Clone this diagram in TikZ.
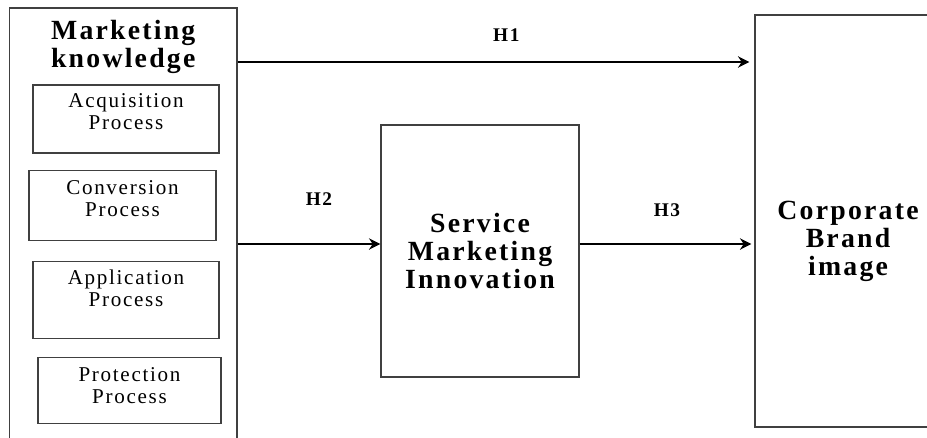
\documentclass[tikz,border=0pt]{standalone}
\usepackage{fontspec}
\setmainfont{Liberation Serif}
\newfontfamily\spaced{Liberation Serif}[LetterSpace=8]
\usetikzlibrary{positioning,arrows.meta}

\begin{document}
\begin{tikzpicture}[
    >={Stealth[length=6.5pt,width=6.5pt]},
    box/.style={draw=black!75, line width=0.7pt, rectangle},
    subbox/.style={box, minimum width=3.72cm, minimum height=1.36cm, align=center, font=\spaced\fontsize{12}{12.5}\selectfont},
    bigtext/.style={align=center, font=\spaced\bfseries\fontsize{15.8}{16}\selectfont},
    link/.style={->, line width=1.3pt},
    hyp/.style={font=\spaced\bfseries\fontsize{11}{12}\selectfont}
]
    \useasboundingbox (0,0) rectangle (18.54,8.74);
    \clip (0,0) rectangle (18.54,8.74);

    \node (mk) [box, minimum width=4.55cm, minimum height=8.78cm] at (2.465,4.19) {};
    \node (mktitle) [bigtext, below=0.13cm of mk.north] {Marketing\\knowledge};
    \node (acq) [subbox] at (2.52,6.36) {Acquisition\\Process\\[-4.5pt]\mbox{}};
    \node (conv) [subbox, minimum width=3.74cm, minimum height=1.4cm, below=0.32cm of acq, xshift=-0.07cm] {Conversion\\Process\\[-4.5pt]\mbox{}};
    \node (app) [subbox, minimum height=1.54cm, below=0.4cm of conv, xshift=0.07cm] {Application\\Process\\[1pt]\mbox{}};
    \node (prot) [subbox, minimum width=3.66cm, minimum height=1.32cm, below=0.36cm of app, xshift=0.07cm] {Protection\\Process\\[-7pt]\mbox{}};

    \node (smi) [box, bigtext, minimum width=3.96cm, minimum height=5.04cm] at (9.6,3.72) {Service\\Marketing\\Innovation};
    \node (cbi) [box, minimum width=3.72cm, minimum height=8.24cm, label={[bigtext, yshift=-0.4cm]center:{Corporate\\Brand\\image}}] at (16.96,4.32) {};

    % Arrows
    \coordinate (h1y) at (0,7.5);
    \coordinate (h2y) at (0,3.86);
    \draw[link, shorten >=0.1cm] (mk.east |- h1y) -- (cbi.west |- h1y) node (h1) [hyp, pos=0.52, above=0.28cm] {H1};
    \draw[link] (mk.east |- h2y) -- (smi.west |- h2y) node (h2) [hyp, pos=0.57, above=0.64cm] {H2};
    \draw[link, shorten >=0.06cm] (smi.east |- h2y) -- (cbi.west |- h2y) node (h3) [hyp, midway, above=0.4cm] {H3};
\end{tikzpicture}
\end{document}
